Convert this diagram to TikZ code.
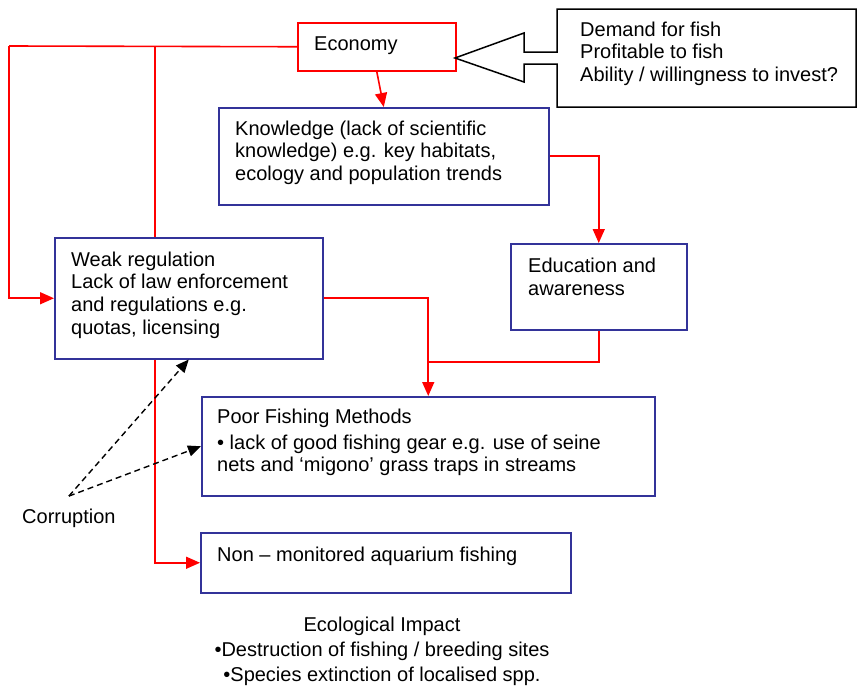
\documentclass[tikz,border=0pt]{standalone}
\usepackage{fontspec}
\setmainfont{Liberation Sans}
\usetikzlibrary{arrows.meta}
\definecolor{boxblue}{RGB}{51,51,153}
\definecolor{linkred}{RGB}{255,0,0}
\newcommand\bodyfont{\fontsize{20}{22.7}\selectfont}
\newcommand\impactfont{\fontsize{20}{25}\selectfont}

\begin{document}
\begin{tikzpicture}[x=1pt,y=-1pt,
  bluebox/.style={draw=boxblue, line width=1.5pt, anchor=north west, inner sep=0pt},
  redbox/.style={draw=linkred, line width=1.5pt, anchor=north west, inner sep=0pt},
  txt/.style={anchor=north west, inner sep=0pt, align=left, font=\bodyfont},
  link/.style={draw=linkred, line width=1.6pt},
  linkarrow/.style={link, -{Triangle[length=14pt,width=12pt]}},
  influence/.style={draw=black, line width=1.4pt, dash pattern=on 6pt off 4pt,
                    -{Triangle[length=13pt,width=11pt]}},
]
\useasboundingbox (0,0) rectangle (857,688);

% boxes
\node[redbox,  minimum width=158pt, minimum height=48pt]  (econ) at (297,22)  {};
\node[bluebox, minimum width=330pt, minimum height=97pt]  (know) at (218,107) {};
\node[bluebox, minimum width=268pt, minimum height=121pt] (weak) at (54,237)  {};
\node[bluebox, minimum width=176pt, minimum height=86pt]  (edu)  at (510,243) {};
\node[bluebox, minimum width=453pt, minimum height=99pt]  (poor) at (201,396) {};
\node[bluebox, minimum width=370pt, minimum height=60pt]  (non)  at (200,532) {};

% box texts
\node[txt] (econt) at (314,34.1) {\strut Economy};
\node[txt] (knowt) at (235,119.1) {\strut Knowledge (lack of scientific\\knowledge) e.g. key habitats,\\ecology and population trends};
\node[txt] (weakt) at (71,250.1) {\strut Weak regulation\\Lack of law enforcement\\and regulations e.g.\\quotas, licensing};
\node[txt] (edut) at (528,256.6) {\strut Education and\\awareness};
\node[txt] (poort) at (217,407.1) {\strut Poor Fishing Methods\\[3.3pt]• lack of good fishing gear e.g. use of seine\\nets and ‘migono’ grass traps in streams};
\node[txt] (nont) at (217,545.1) {\strut Non – monitored aquarium fishing};

% drivers of the economy: box with a hollow arrow pointing left
\draw[black, line width=1.5pt, line join=miter]
  (455,58) -- (524,33) -- (524,52) -- (557,52) -- (557,9) -- (856,9)
  -- (856,107) -- (557,107) -- (557,64) -- (524,64) -- (524,82) -- cycle;
\node[txt] (drivers) at (580,20.1) {\strut Demand for fish\\Profitable to fish\\Ability / willingness to invest?};

% corruption and ecological impact
\node[txt] (corr) at (22,507.1) {\strut Corruption};
\node[anchor=north, inner sep=0pt, align=center, font=\impactfont] (impact) at (382,613.5)
  {\strut Ecological Impact\\•Destruction of fishing / breeding sites\\•Species extinction of localised spp.};

% red links
\coordinate (corner) at (9,46);
\coordinate (split) at (155,46);
\draw[link] (econ.west) -- (corner);
\draw[linkarrow] (corner) |- (weak.west);
\draw[link] (split) -- (split |- weak.north);
\draw[linkarrow] (split |- weak.south) |- (non.west);
\draw[linkarrow] (econ.south) -- (know.north);
\draw[linkarrow] (know.east) -| (edu.north);
\draw[linkarrow] (weak.east) -| (poor.north);
\draw[link] (edu.south) |- ([yshift=34pt]poor.north);

% dashed influence of corruption
\coordinate (corrsrc) at ([yshift=11pt]corr.north);
\draw[influence] (corrsrc) -- (weak.south);
\draw[influence] (corrsrc) -- (poor.west);
\end{tikzpicture}
\end{document}
